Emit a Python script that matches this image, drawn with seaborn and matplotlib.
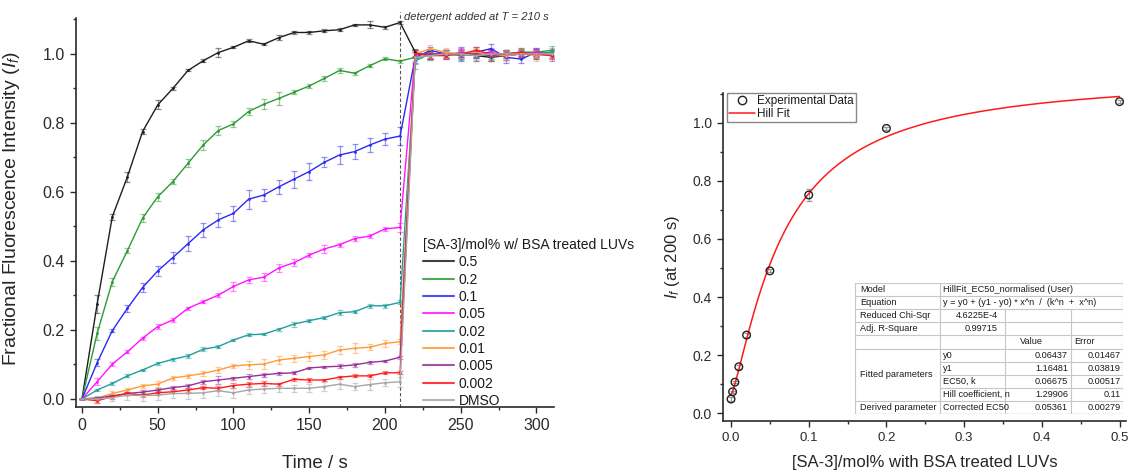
import numpy as np
import pandas as pd
import matplotlib
matplotlib.use("Agg")
import matplotlib.pyplot as plt
from matplotlib.lines import Line2D
from matplotlib.ticker import MultipleLocator, FormatStrFormatter
import seaborn as sns

# ---------------- data ----------------
time_s = [0, 10, 20, 30, 40, 50, 60, 70, 80, 90, 100, 110, 120, 130, 140, 150, 160, 170, 180, 190, 200, 210,
          220, 230, 240, 250, 260, 270, 280, 290, 300, 310]

series_labels = ["0.5", "0.2", "0.1", "0.05", "0.02", "0.01", "0.005", "0.002", "DMSO"]

v_05 = [0, 0.275, 0.528, 0.644, 0.775, 0.852, 0.90, 0.952, 0.98, 1.004, 1.019, 1.038, 1.028, 1.047, 1.062, 1.062,
        1.067, 1.07, 1.084, 1.084, 1.077, 1.091,
        1.005, 0.995, 1.0, 1.0, 0.995, 0.99, 0.995, 1.0, 1.0, 1.0]
v_02 = [0, 0.19, 0.34, 0.43, 0.524, 0.586, 0.63, 0.683, 0.736, 0.778, 0.797, 0.833, 0.854, 0.871, 0.889, 0.907,
        0.929, 0.952, 0.944, 0.966, 0.986, 0.979,
        0.99, 0.995, 1.0, 1.0, 1.0, 0.995, 1.0, 1.005, 1.005, 1.01]
v_01 = [0, 0.105, 0.198, 0.263, 0.323, 0.371, 0.41, 0.45, 0.49, 0.519, 0.538, 0.579, 0.591, 0.615, 0.637, 0.659,
        0.686, 0.707, 0.717, 0.736, 0.753, 0.762,
        0.99, 1.01, 1.0, 1.0, 1.005, 1.015, 0.99, 0.985, 1.005, 1.0]
v_005 = [0, 0.05, 0.101, 0.137, 0.176, 0.21, 0.229, 0.263, 0.282, 0.301, 0.326, 0.345, 0.353, 0.38, 0.395, 0.417,
         0.435, 0.447, 0.465, 0.472, 0.493, 0.497,
         1.0, 1.0, 0.995, 1.005, 1.0, 1.005, 0.995, 1.0, 1.005, 1.0]
v_002 = [0, 0.026, 0.045, 0.067, 0.084, 0.103, 0.115, 0.125, 0.144, 0.152, 0.171, 0.186, 0.188, 0.202, 0.217, 0.227,
         0.236, 0.25, 0.253, 0.27, 0.27, 0.28,
         0.98, 1.0, 1.0, 0.995, 1.0, 1.0, 1.0, 1.005, 1.0, 1.005]
v_001 = [0, 0.002, 0.016, 0.026, 0.038, 0.043, 0.061, 0.067, 0.074, 0.084, 0.096, 0.099, 0.101, 0.113, 0.118, 0.123,
         0.128, 0.142, 0.147, 0.15, 0.161, 0.166,
         1.0, 1.015, 1.005, 1.0, 1.005, 0.995, 0.995, 1.0, 0.995, 1.0]
v_0005 = [0, 0.003, 0.009, 0.016, 0.02, 0.026, 0.033, 0.038, 0.05, 0.055, 0.06, 0.065, 0.07, 0.074, 0.076, 0.09,
          0.093, 0.095, 0.099, 0.106, 0.11, 0.121,
          1.0, 1.0, 1.0, 1.0, 1.0, 0.995, 1.0, 1.0, 1.0, 0.995]
v_0002 = [0, -0.005, 0.007, 0.016, 0.011, 0.018, 0.021, 0.026, 0.033, 0.031, 0.039, 0.043, 0.045, 0.043, 0.057, 0.055,
          0.055, 0.063, 0.067, 0.067, 0.076, 0.076,
          1.0, 0.995, 0.995, 1.0, 1.01, 1.0, 1.0, 1.005, 1.0, 0.995]
v_dmso = [0, 0.0, 0.004, 0.011, 0.01, 0.011, 0.016, 0.016, 0.018, 0.024, 0.018, 0.026, 0.029, 0.031, 0.031, 0.031,
          0.036, 0.043, 0.036, 0.042, 0.047, 0.05,
          0.99, 0.995, 1.0, 1.0, 0.995, 1.0, 1.0, 1.0, 1.0, 1.0]

e_05 = [0, 0.025, 0.008, 0.015, 0.008, 0.013, 0.004, 0.003, 0.004, 0.012, 0.003, 0.004, 0.003, 0.008, 0.003, 0.005,
        0.005, 0.004, 0.003, 0.01, 0.004, 0.003,
        0.01, 0.01, 0.012, 0.01, 0.015, 0.012, 0.012, 0.01, 0.012, 0.012]
e_02 = [0, 0.02, 0.012, 0.008, 0.012, 0.012, 0.008, 0.012, 0.015, 0.012, 0.008, 0.01, 0.015, 0.018, 0.005, 0.005,
        0.008, 0.008, 0.004, 0.005, 0.004, 0.004,
        0.02, 0.012, 0.01, 0.012, 0.01, 0.012, 0.01, 0.012, 0.01, 0.012]
e_01 = [0, 0.01, 0.005, 0.01, 0.012, 0.015, 0.015, 0.022, 0.02, 0.02, 0.022, 0.028, 0.018, 0.02, 0.025, 0.025,
        0.015, 0.025, 0.022, 0.02, 0.018, 0.025,
        0.015, 0.01, 0.012, 0.02, 0.015, 0.015, 0.015, 0.012, 0.012, 0.012]
e_005 = [0, 0.01, 0.005, 0.005, 0.005, 0.008, 0.005, 0.004, 0.004, 0.005, 0.012, 0.008, 0.012, 0.012, 0.01, 0.005,
         0.012, 0.006, 0.008, 0.005, 0.006, 0.012,
         0.012, 0.012, 0.01, 0.012, 0.012, 0.012, 0.012, 0.01, 0.012, 0.012]
e_002 = [0, 0.004, 0.004, 0.004, 0.004, 0.004, 0.004, 0.006, 0.006, 0.005, 0.004, 0.004, 0.004, 0.004, 0.007, 0.004,
         0.005, 0.008, 0.005, 0.006, 0.006, 0.006,
         0.025, 0.012, 0.012, 0.012, 0.012, 0.015, 0.012, 0.012, 0.015, 0.012]
e_001 = [0, 0.004, 0.006, 0.006, 0.006, 0.008, 0.005, 0.005, 0.006, 0.01, 0.006, 0.012, 0.015, 0.012, 0.01, 0.012,
         0.012, 0.012, 0.015, 0.008, 0.01, 0.008,
         0.012, 0.012, 0.012, 0.012, 0.012, 0.015, 0.012, 0.012, 0.015, 0.012]
e_0005 = [0, 0.004, 0.004, 0.005, 0.005, 0.005, 0.005, 0.006, 0.006, 0.012, 0.004, 0.006, 0.005, 0.004, 0.004, 0.004,
          0.004, 0.005, 0.006, 0.004, 0.004, 0.004,
          0.012, 0.015, 0.012, 0.015, 0.012, 0.015, 0.012, 0.012, 0.015, 0.015]
e_0002 = [0, 0.008, 0.006, 0.005, 0.005, 0.004, 0.004, 0.005, 0.005, 0.006, 0.006, 0.007, 0.008, 0.004, 0.004, 0.005,
          0.004, 0.004, 0.004, 0.004, 0.004, 0.005,
          0.01, 0.01, 0.01, 0.01, 0.01, 0.01, 0.01, 0.01, 0.01, 0.01]
e_dmso = [0, 0.01, 0.01, 0.015, 0.015, 0.015, 0.012, 0.015, 0.015, 0.015, 0.015, 0.012, 0.012, 0.012, 0.01, 0.012,
          0.012, 0.015, 0.01, 0.015, 0.01, 0.015,
          0.012, 0.012, 0.012, 0.012, 0.012, 0.012, 0.012, 0.012, 0.012, 0.012]

series_values = [v_05, v_02, v_01, v_005, v_002, v_001, v_0005, v_0002, v_dmso]
series_errors = [e_05, e_02, e_01, e_005, e_002, e_001, e_0005, e_0002, e_dmso]
series_colors = ["#1e1e1e", "#2f9a35", "#2b2bf0", "#ff14ff", "#239d9d", "#ff9a38", "#963296", "#ff1a1a", "#a6a6a6"]

detergent_time = 210

# right panel
conc = [0, 0.002, 0.005, 0.01, 0.02, 0.05, 0.1, 0.2, 0.5]
if_200 = [0.049, 0.074, 0.107, 0.16, 0.269, 0.49, 0.751, 0.98, 1.072]
if_200_err = [0.008, 0.004, 0.004, 0.006, 0.006, 0.005, 0.02, 0.006, 0.005]

hill_y0, hill_y1, hill_k, hill_n = 0.06437, 1.16481, 0.06675, 1.29906

table_rows = [
    ["Model", "HillFit_EC50_normalised (User)", "", ""],
    ["Equation", "y = y0 + (y1 - y0) * x^n  /  (k^n  +  x^n)", "", ""],
    ["Reduced Chi-Sqr", "4.6225E-4", "", ""],
    ["Adj. R-Square", "0.99715", "", ""],
    ["", "", "Value", "Error"],
    ["", "y0", "0.06437", "0.01467"],
    ["", "y1", "1.16481", "0.03819"],
    ["", "EC50, k", "0.06675", "0.00517"],
    ["", "Hill coefficient, n", "1.29906", "0.11"],
    ["Derived parameter", "Corrected EC50", "0.05361", "0.00279"],
]
table_group_label = "Fitted parameters"

# ---------------- style ----------------
sns.set_style("ticks")
FONT = ["Liberation Sans", "DejaVu Sans"]
plt.rcParams["font.family"] = FONT
plt.rcParams["mathtext.fontset"] = "custom"
plt.rcParams["mathtext.rm"] = "Liberation Sans"
plt.rcParams["mathtext.it"] = "Liberation Sans:italic"
plt.rcParams["axes.edgecolor"] = "#2a2a2a"
plt.rcParams["xtick.color"] = "#2a2a2a"
plt.rcParams["ytick.color"] = "#2a2a2a"
plt.rcParams["text.color"] = "#1a1a1a"

fig = plt.figure(figsize=(11.29, 4.70), dpi=100)

# ---------------- left panel ----------------
axL = fig.add_axes([0.0673, 0.1347, 0.4234, 0.827])
rows = []
for lab, vals in zip(series_labels, series_values):
    for t, v in zip(time_s, vals):
        rows.append({"time": t, "value": v, "series": lab})
df = pd.DataFrame(rows)
palette = dict(zip(series_labels, series_colors))

for lab, vals, errs, col in zip(series_labels, series_values, series_errors, series_colors):
    axL.errorbar(time_s, vals, yerr=errs, fmt="none", ecolor=col, alpha=0.5,
                 elinewidth=0.9, capsize=2.5, capthick=0.9, zorder=2)

sns.lineplot(data=df, x="time", y="value", hue="series", hue_order=series_labels,
             palette=palette, estimator=None, sort=False, linewidth=1.0,
             marker="o", markersize=2.0, markeredgewidth=0, legend=False, ax=axL, zorder=3)

axL.axvline(detergent_time, ymin=0, ymax=1.015, color="#555555", lw=0.8,
            linestyle=(0, (3, 2)), clip_on=False, zorder=1)
axL.text(detergent_time + 2.5, 1.107, "detergent added at T = 210 s", style="italic",
         fontsize=8.1, color="#333333", ha="left", va="center")

axL.set_xlim(-3.96, 311.6)
axL.set_ylim(-0.0223, 1.104)
axL.xaxis.set_major_locator(MultipleLocator(50))
axL.xaxis.set_minor_locator(MultipleLocator(25))
axL.yaxis.set_major_locator(MultipleLocator(0.2))
axL.yaxis.set_minor_locator(MultipleLocator(0.1))
axL.yaxis.set_major_formatter(FormatStrFormatter("%.1f"))
axL.tick_params(which="major", direction="out", length=4.5, width=1.0, labelsize=11.5)
axL.tick_params(which="minor", direction="out", length=2.5, width=1.0)
axL.set_xlabel("Time / s", fontsize=13.5)
axL.set_ylabel("Fractional Fluorescence Intensity ($I_f$)", fontsize=14)
axL.xaxis.set_label_coords(0.5, -0.124)
axL.yaxis.set_label_coords(-0.113, 0.51)
for s in ["top", "right"]:
    axL.spines[s].set_visible(False)
for s in ["left", "bottom"]:
    axL.spines[s].set_linewidth(1.2)

handles = [Line2D([0], [0], color=c, lw=1.5, alpha=0.85) for c in series_colors]
legL = axL.legend(handles, series_labels, title="[SA-3]/mol% w/ BSA treated LUVs",
                  loc="upper left", bbox_to_anchor=(416 / 1129, 1 - 231 / 470),
                  bbox_transform=fig.transFigure, frameon=False, fontsize=10,
                  title_fontsize=10, borderpad=0, labelspacing=0.24, handlelength=2.2,
                  handletextpad=0.36, alignment="left")
legL.set_clip_on(False)

# ---------------- right panel ----------------
axR = fig.add_axes([0.6407, 0.1049, 0.3564, 0.6966])
xfit = np.linspace(0, 0.5, 400)
yfit = hill_y0 + (hill_y1 - hill_y0) * xfit ** hill_n / (hill_k ** hill_n + xfit ** hill_n)
df_fit = pd.DataFrame({"x": xfit, "y": yfit})
df_pts = pd.DataFrame({"x": conc, "y": if_200})

axR.errorbar(conc, if_200, yerr=if_200_err, fmt="none", ecolor="#777777", alpha=0.7,
             elinewidth=0.9, capsize=2.5, capthick=0.9, zorder=2)
sns.lineplot(data=df_fit, x="x", y="y", color="#ff1a1a", linewidth=1.1, ax=axR,
             zorder=3, legend=False)
sns.scatterplot(data=df_pts, x="x", y="y", s=30, facecolors="none", edgecolor="#222222",
                linewidth=1.0, ax=axR, zorder=4, legend=False)

axR.set_xlim(-0.0099, 0.508)
axR.set_ylim(-0.0255, 1.1008)
axR.xaxis.set_major_locator(MultipleLocator(0.1))
axR.xaxis.set_minor_locator(MultipleLocator(0.05))
axR.yaxis.set_major_locator(MultipleLocator(0.2))
axR.yaxis.set_minor_locator(MultipleLocator(0.1))
axR.xaxis.set_major_formatter(FormatStrFormatter("%.1f"))
axR.yaxis.set_major_formatter(FormatStrFormatter("%.1f"))
axR.tick_params(which="major", direction="out", length=4.5, width=1.0, labelsize=10)
axR.tick_params(axis="x", which="major", labelsize=9.5)
axR.tick_params(which="minor", direction="out", length=2.5, width=1.0)
axR.set_xlabel("[SA-3]/mol% with BSA treated LUVs", fontsize=12)
axR.set_ylabel("$I_f$ (at 200 s)", fontsize=12)
axR.xaxis.set_label_coords(0.501, -0.105)
axR.yaxis.set_label_coords(-0.103, 0.5)
for s in ["top", "right"]:
    axR.spines[s].set_visible(False)
for s in ["left", "bottom"]:
    axR.spines[s].set_linewidth(1.2)

hR = [Line2D([0], [0], marker="o", linestyle="none", markerfacecolor="none",
             markeredgecolor="#222222", markersize=6, markeredgewidth=1.0),
      Line2D([0], [0], color="#ff1a1a", lw=1.1)]
legR = axR.legend(hR, ["Experimental Data", "Hill Fit"], loc="upper left",
                  bbox_to_anchor=(0.0085, 1.0), borderaxespad=0, fontsize=8.5,
                  fancybox=False, edgecolor="#888888", framealpha=1, borderpad=0.15,
                  labelspacing=0.1, handlelength=2.2, handletextpad=0.25)
legR.get_frame().set_linewidth(1.0)

# ---------------- fit table ----------------
axT = fig.add_axes([855 / 1129, 1 - 414 / 470, 268 / 1129, 131 / 470])
axT.set_xlim(0, 268)
axT.set_ylim(131, 0)
axT.axis("off")
axT.add_patch(plt.Rectangle((0, 0), 268, 131, facecolor="white", edgecolor="none", zorder=0))
col_x = [0, 85, 150, 216, 268]
nrow = len(table_rows)
rh = 131 / nrow
lc = "#c6c6c6"
for i in range(nrow + 1):
    y = i * rh
    if 6 <= i <= 8:
        axT.plot([col_x[1], col_x[4]], [y, y], color=lc, lw=0.8)
    else:
        axT.plot([col_x[0], col_x[4]], [y, y], color=lc, lw=0.8)
axT.plot([col_x[0], col_x[0]], [0, 131], color=lc, lw=0.8)
axT.plot([col_x[4], col_x[4]], [0, 131], color=lc, lw=0.8)
axT.plot([col_x[1], col_x[1]], [0, 131], color=lc, lw=0.8)
for cx in (col_x[2], col_x[3]):
    axT.plot([cx, cx], [2 * rh, 131], color=lc, lw=0.8)
axT.plot([0, 268], [131.5, 131.5], color="#bbbbbb", lw=1.6)

fs = 6.6
for i, r in enumerate(table_rows):
    yc = (i + 0.5) * rh
    if r[0]:
        axT.text(5, yc, r[0], fontsize=fs, va="center", ha="left")
    if i <= 1:
        axT.text(col_x[1] + 3, yc, r[1], fontsize=fs, va="center", ha="left")
    elif i <= 3:
        axT.text(143, yc, r[1], fontsize=fs, va="center", ha="right")
    elif i == 4:
        axT.text(165, yc, r[2], fontsize=fs, va="center", ha="left")
        axT.text(219, yc, r[3], fontsize=fs, va="center", ha="left")
    else:
        axT.text(col_x[1] + 3, yc, r[1], fontsize=fs, va="center", ha="left")
        axT.text(col_x[3] - 3, yc, r[2], fontsize=fs, va="center", ha="right")
        axT.text(col_x[4] - 2, yc, r[3], fontsize=fs, va="center", ha="right")
axT.text(5, 7 * rh, table_group_label, fontsize=fs, va="center", ha="left")

fig.savefig("out.png", dpi=100)
